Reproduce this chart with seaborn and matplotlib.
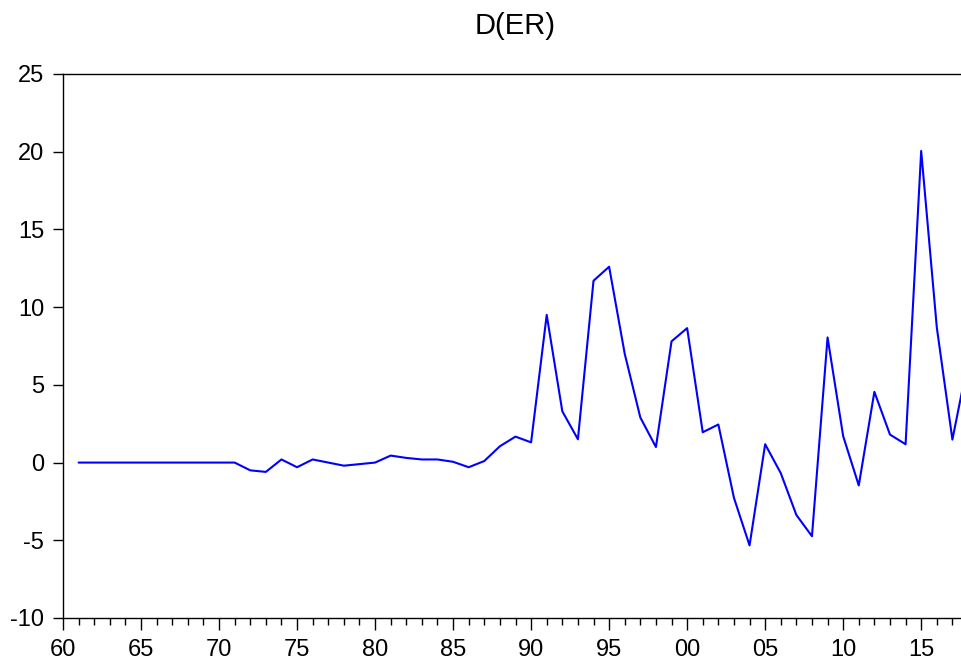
import numpy as np
import pandas as pd
import matplotlib
matplotlib.use("Agg")
import matplotlib.pyplot as plt
import seaborn as sns
from matplotlib.ticker import MultipleLocator, FixedLocator

years = list(range(1961, 2019))
values = [0, 0, 0, 0, 0, 0, 0, 0, 0, 0,          # 1961-1970
          0, -0.5, -0.6, 0.2, -0.3, 0.2, 0.0, -0.2, -0.1, 0.0,   # 1971-1980
          0.45, 0.3, 0.2, 0.2, 0.05, -0.3, 0.1, 1.05, 1.67, 1.3,  # 1981-1990
          9.5, 3.3, 1.5, 11.7, 12.6, 7.0, 2.9, 1.0, 7.8, 8.65,   # 1991-2000
          1.95, 2.45, -2.27, -5.33, 1.18, -0.68, -3.37, -4.74, 8.05, 1.7,  # 2001-2010
          -1.47, 4.55, 1.8, 1.18, 20.05, 8.7, 1.48, 6.5]          # 2011-2018
xtick_labels = ["60", "65", "70", "75", "80", "85", "90", "95", "00", "05", "10", "15"]
xtick_years = [1960, 1965, 1970, 1975, 1980, 1985, 1990, 1995, 2000, 2005, 2010, 2015]
title = "D(ER)"

df = pd.DataFrame({"year": years, "value": values})

sns.set_style("white")
plt.rcParams["font.family"] = ["Liberation Sans", "DejaVu Sans"]
plt.rcParams["axes.unicode_minus"] = False
plt.rcParams["text.color"] = "black"
plt.rcParams["xtick.color"] = "black"
plt.rcParams["ytick.color"] = "black"
plt.rcParams["xtick.labelcolor"] = "black"
plt.rcParams["ytick.labelcolor"] = "black"

W, H = 962, 662
fig = plt.figure(figsize=(W / 100, H / 100), dpi=100)
ax = fig.add_axes([63 / W, (H - 618) / H, (968 - 63) / W, (618 - 74) / H])

sns.lineplot(data=df, x="year", y="value", ax=ax, color="#0000FF", linewidth=1.5)

ax.set_xlim(1960, 2018)
ax.set_ylim(-10, 25)
ax.set_xlabel("")
ax.set_ylabel("")
ax.set_title(title, fontsize=21, pad=29, color="black")

ax.xaxis.set_major_locator(FixedLocator(xtick_years))
ax.set_xticklabels(xtick_labels)
ax.xaxis.set_minor_locator(MultipleLocator(1))
ax.yaxis.set_major_locator(MultipleLocator(5))

ax.tick_params(axis="x", which="major", direction="out", length=8.6, width=1, labelsize=17, pad=6.5, bottom=True)
ax.tick_params(axis="x", which="minor", direction="out", length=5, width=1, bottom=True)
ax.tick_params(axis="y", which="major", direction="out", length=7, width=1, labelsize=17, pad=6.5, left=True)

for s in ax.spines.values():
    s.set_visible(True)
    s.set_color("black")
    s.set_linewidth(1.0)

fig.savefig("out.png", dpi=100)
